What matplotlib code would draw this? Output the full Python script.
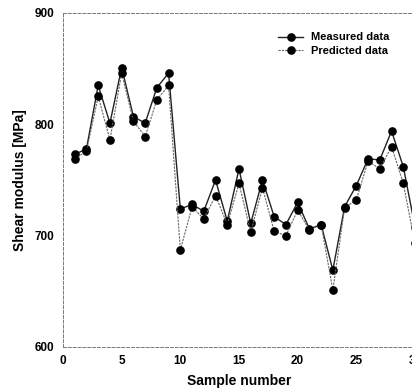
import matplotlib
matplotlib.use("Agg")
import matplotlib.pyplot as plt

samples = list(range(1, 31))
measured = [773, 778, 835, 801, 851, 807, 801, 833, 846, 724,
            728, 722, 750, 713, 760, 711, 750, 717, 710, 730,
            706, 710, 669, 726, 745, 769, 768, 794, 762, 708]
predicted = [769, 776, 825, 786, 846, 803, 789, 822, 835, 687,
             726, 715, 736, 710, 747, 703, 743, 704, 700, 723,
             705, 710, 651, 725, 732, 767, 760, 780, 747, 693]
xticks = [0, 5, 10, 15, 20, 25, 30]
yticks = [600, 700, 800, 900]

plt.rcParams['font.family'] = ['Liberation Sans', 'DejaVu Sans']

fig = plt.figure(figsize=(4.12, 3.92), dpi=100)
ax = fig.add_axes([63/412, 45/392, 352/412, 334/392])

ax.plot(samples, measured, '-', color='#222222', lw=1.0, marker='o', ms=5.2,
        mfc='black', mec='black', label='Measured data')
ax.plot(samples, predicted, linestyle=(0, (2, 1)), color='#666666', lw=0.8, marker='o', ms=5.2,
        mfc='black', mec='black', label='Predicted data')

ax.set_xlim(0, 30)
ax.set_ylim(600, 900)
ax.set_xticks(xticks)
ax.set_yticks(yticks)
ax.tick_params(length=0, pad=6, labelsize=8.5)
for lbl in ax.get_xticklabels() + ax.get_yticklabels():
    lbl.set_fontweight('bold')

for side in ['left', 'top', 'bottom']:
    ax.spines[side].set_linestyle((0, (3, 2)))
    ax.spines[side].set_linewidth(0.7)
    ax.spines[side].set_color('#777777')
ax.spines['right'].set_visible(False)

ax.set_xlabel('Sample number', fontsize=10, fontweight='bold', labelpad=5)
ax.set_ylabel('Shear modulus [MPa]', fontsize=10, fontweight='bold', labelpad=6)

leg = ax.legend(loc='upper left', bbox_to_anchor=(0.59, 0.965), frameon=False,
                fontsize=8, handlelength=2.2, handletextpad=0.7,
                labelspacing=0.35, borderpad=0.2)
for t in leg.get_texts():
    t.set_fontweight('bold')

fig.savefig('out.png', dpi=100)
